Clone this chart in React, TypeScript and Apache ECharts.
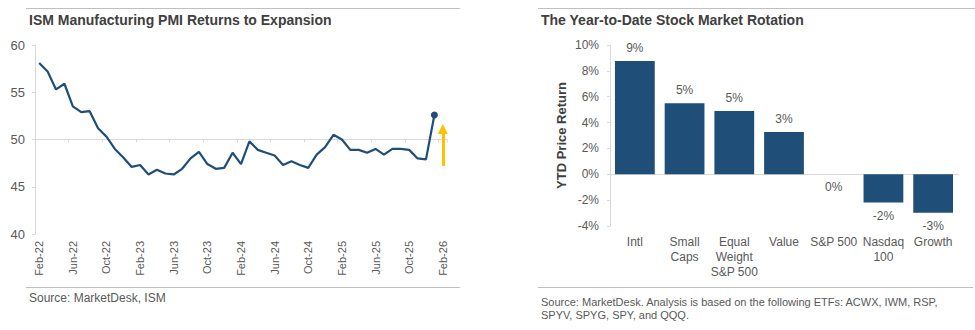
import React, { useEffect, useRef } from "react";
import * as echarts from "echarts";

// ---------- Left panel: ISM Manufacturing PMI ----------
const pmiMonths: string[] = [
  "Feb-22", "Mar-22", "Apr-22", "May-22", "Jun-22", "Jul-22", "Aug-22", "Sep-22", "Oct-22", "Nov-22", "Dec-22",
  "Jan-23", "Feb-23", "Mar-23", "Apr-23", "May-23", "Jun-23", "Jul-23", "Aug-23", "Sep-23", "Oct-23", "Nov-23", "Dec-23",
  "Jan-24", "Feb-24", "Mar-24", "Apr-24", "May-24", "Jun-24", "Jul-24", "Aug-24", "Sep-24", "Oct-24", "Nov-24", "Dec-24",
  "Jan-25", "Feb-25", "Mar-25", "Apr-25", "May-25", "Jun-25", "Jul-25", "Aug-25", "Sep-25", "Oct-25", "Nov-25", "Dec-25",
  "Jan-26", "Feb-26",
];
const pmiValues: (number | null)[] = [
  58.1, 57.2, 55.3, 55.9, 53.5, 52.9, 53.0, 51.2, 50.3, 49.0, 48.1,
  47.1, 47.3, 46.3, 46.8, 46.4, 46.3, 46.9, 48.0, 48.7, 47.4, 46.9, 47.0,
  48.6, 47.4, 49.8, 48.9, 48.6, 48.3, 47.3, 47.7, 47.3, 47.0, 48.4, 49.2,
  50.5, 50.0, 48.9, 48.9, 48.6, 49.0, 48.4, 49.0, 49.0, 48.9, 48.0, 47.9,
  52.6, null,
];
const pmiTicks = { min: 40, max: 60, interval: 5 };
const pmiExpansionLine = 50;
const arrowCategory = "Feb-26";
const arrowFrom = 47.2;
const arrowTo = 51.1;

// ---------- Right panel: YTD stock market rotation ----------
const rotationCategories: string[] = [
  "Intl", "Small\nCaps", "Equal\nWeight\nS&P 500", "Value", "S&P 500", "Nasdaq\n100", "Growth",
];
const rotationValues: number[] = [8.76, 5.49, 4.9, 3.27, 0, -2.19, -2.97];
const rotationTicks = { min: -4, max: 10, interval: 2 };

const FONT = "'Liberation Sans', Arial, Helvetica, sans-serif";
const NAVY = "#1F4E79";
const AXIS_GREY = "#D9D9D9";
const LABEL_GREY = "#595959";
const TITLE_GREY = "#404040";
const RULE_GREY = "#BFBFBF";

export default function App() {
  const ref = useRef<HTMLDivElement>(null);

  useEffect(() => {
    if (!ref.current) return;
    const chart = echarts.init(ref.current, undefined, { renderer: "svg" });

    let lastIdx = -1;
    pmiValues.forEach((v, i) => {
      if (v !== null) lastIdx = i;
    });

    const barData = rotationValues.map((v) => ({
      value: v,
      label: { position: v > 0 ? "top" : "bottom" },
    }));

    const gridLeftH = 189;

    const option: any = {
      animation: false,
      textStyle: { fontFamily: FONT },
      grid: [
        { left: 35, top: 45, width: 412, height: gridLeftH },
        { left: 610, top: 45, width: 348, height: 181 },
      ],
      xAxis: [
        {
          gridIndex: 0,
          type: "category",
          data: pmiMonths,
          boundaryGap: true,
          position: "bottom",
          axisLine: { show: false, onZero: false },
          axisTick: { show: false },
          splitLine: { show: false },
          axisLabel: {
            interval: 3,
            rotate: 90,
            fontSize: 11,
            color: LABEL_GREY,
            fontFamily: FONT,
            margin: 7,
          },
        },
        {
          gridIndex: 0,
          type: "category",
          data: pmiMonths,
          boundaryGap: true,
          position: "bottom",
          offset: -gridLeftH * ((pmiExpansionLine - pmiTicks.min) / (pmiTicks.max - pmiTicks.min)),
          axisLine: { show: true, onZero: false, lineStyle: { color: AXIS_GREY, width: 1 } },
          axisTick: { show: true, interval: 3, length: 3, lineStyle: { color: AXIS_GREY } },
          axisLabel: { show: false },
          splitLine: { show: false },
        },
        {
          gridIndex: 1,
          type: "category",
          data: rotationCategories,
          axisLine: { show: true, onZero: true, lineStyle: { color: AXIS_GREY, width: 1 } },
          axisTick: { show: false },
          axisLabel: { show: false },
        },
        {
          gridIndex: 1,
          type: "category",
          data: rotationCategories,
          position: "bottom",
          axisLine: { show: false, onZero: false },
          axisTick: { show: false },
          axisLabel: {
            interval: 0,
            fontSize: 12,
            lineHeight: 15,
            color: LABEL_GREY,
            fontFamily: FONT,
            margin: 8,
          },
        },
      ],
      yAxis: [
        {
          gridIndex: 0,
          type: "value",
          min: pmiTicks.min,
          max: pmiTicks.max,
          interval: pmiTicks.interval,
          axisLine: { show: true, lineStyle: { color: AXIS_GREY, width: 1 } },
          axisTick: { show: true, length: 3, lineStyle: { color: AXIS_GREY } },
          splitLine: { show: false },
          axisLabel: { fontSize: 13, color: LABEL_GREY, fontFamily: FONT, margin: 10 },
        },
        {
          gridIndex: 1,
          type: "value",
          min: rotationTicks.min,
          max: rotationTicks.max,
          interval: rotationTicks.interval,
          axisLine: { show: true, lineStyle: { color: AXIS_GREY, width: 1 } },
          axisTick: { show: true, length: 3, lineStyle: { color: AXIS_GREY } },
          splitLine: { show: false },
          axisLabel: {
            fontSize: 12,
            color: LABEL_GREY,
            fontFamily: FONT,
            margin: 11,
            formatter: "{value}%",
          },
          name: "YTD Price Return",
          nameLocation: "middle",
          nameRotate: 90,
          nameGap: 42,
          nameTextStyle: { fontSize: 13, fontWeight: "bold", color: TITLE_GREY, fontFamily: FONT },
        },
      ],
      series: [
        {
          type: "line",
          xAxisIndex: 0,
          yAxisIndex: 0,
          data: pmiValues,
          symbol: "circle",
          showSymbol: true,
          showAllSymbol: true,
          symbolSize: (_v: any, p: any) => (p.dataIndex === lastIdx ? 7 : 0),
          lineStyle: { color: NAVY, width: 2.2 },
          itemStyle: { color: NAVY },
          connectNulls: false,
          markLine: {
            silent: true,
            symbol: ["none", "triangle"],
            symbolSize: 10,
            label: { show: false },
            lineStyle: { color: "#FFC000", width: 3, type: "solid" },
            itemStyle: { color: "#FFC000" },
            data: [
              [
                { coord: [arrowCategory, arrowFrom] },
                { coord: [arrowCategory, arrowTo] },
              ],
            ],
          },
        },
        {
          type: "bar",
          xAxisIndex: 2,
          yAxisIndex: 1,
          data: barData,
          barCategoryGap: "20%",
          itemStyle: { color: NAVY },
          label: {
            show: true,
            distance: 7,
            fontSize: 12,
            color: LABEL_GREY,
            fontFamily: FONT,
            formatter: (p: any) => `${Math.round(p.value) || 0}%`,
          },
        },
      ],
      graphic: [
        { type: "line", shape: { x1: 26, y1: 8.5, x2: 460, y2: 8.5 }, style: { stroke: RULE_GREY, lineWidth: 1 } },
        { type: "line", shape: { x1: 26, y1: 287.5, x2: 460, y2: 287.5 }, style: { stroke: RULE_GREY, lineWidth: 1 } },
        { type: "line", shape: { x1: 538, y1: 8.5, x2: 975, y2: 8.5 }, style: { stroke: RULE_GREY, lineWidth: 1 } },
        { type: "line", shape: { x1: 538, y1: 287.5, x2: 973, y2: 287.5 }, style: { stroke: RULE_GREY, lineWidth: 1 } },
        {
          type: "text",
          x: 29,
          y: 20,
          style: {
            text: "ISM Manufacturing PMI Returns to Expansion",
            font: `bold 14px ${FONT}`,
            fill: TITLE_GREY,
            verticalAlign: "middle",
          },
        },
        {
          type: "text",
          x: 541,
          y: 20,
          style: {
            text: "The Year-to-Date Stock Market Rotation",
            font: `bold 14px ${FONT}`,
            fill: TITLE_GREY,
            verticalAlign: "middle",
          },
        },
        {
          type: "text",
          x: 29,
          y: 298,
          style: {
            text: "Source: MarketDesk, ISM",
            font: `12px ${FONT}`,
            fill: LABEL_GREY,
            verticalAlign: "middle",
          },
        },
        {
          type: "text",
          x: 541,
          y: 295,
          style: {
            text:
              "Source: MarketDesk. Analysis is based on the following ETFs: ACWX, IWM, RSP,\nSPYV, SPYG, SPY, and QQQ.",
            font: `11px ${FONT}`,
            lineHeight: 13,
            fill: LABEL_GREY,
            verticalAlign: "top",
          },
        },
      ],
    };

    chart.setOption(option);
    return () => chart.dispose();
  }, []);

  return (
    <div
      ref={ref}
      style={{ position: "absolute", left: 0, top: 0, width: 975, height: 330, background: "#ffffff" }}
    />
  );
}
